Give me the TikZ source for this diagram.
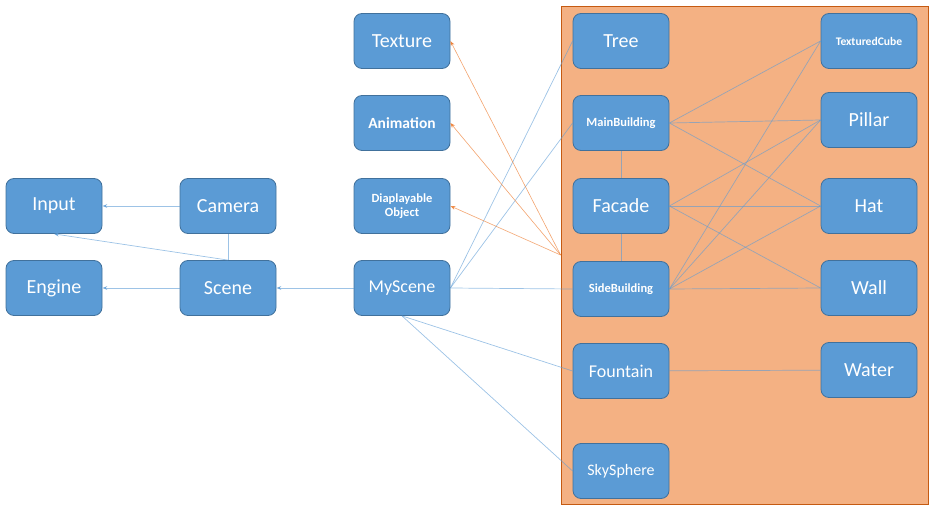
\documentclass[tikz,border=0pt]{standalone}
\usepackage{fontspec}
\setmainfont{Carlito}
\usetikzlibrary{arrows.meta}
\definecolor{nodeblue}{HTML}{5B9BD5}
\definecolor{nodeedge}{HTML}{41719C}
\definecolor{contfill}{HTML}{F4B183}
\definecolor{contedge}{HTML}{C55A11}
\definecolor{orangeline}{HTML}{ED7D31}
\begin{document}
\begin{tikzpicture}[x=1pt,y=-1pt,
 box/.style={draw=nodeedge, line width=0.8pt, fill=nodeblue, rounded corners=8pt, minimum width=96pt, minimum height=55pt, inner sep=0pt, text=white, align=center, font=\fontsize{20}{24}\selectfont},
 mid/.style={font=\fontsize{18}{21}\selectfont},
 anim/.style={font=\bfseries\fontsize{15.5}{18}\selectfont},
 sky/.style={font=\fontsize{16}{19}\selectfont},
 small/.style={font=\bfseries\fontsize{12.5}{14}\selectfont},
 tiny/.style={font=\bfseries\fontsize{11.6}{13}\selectfont},
 link/.style={draw=nodeblue, draw opacity=0.6, line width=0.7pt},
 arr/.style={link, -{Stealth[length=5pt,width=4pt]}},
 oarr/.style={draw=orangeline, draw opacity=0.7, line width=0.6pt, -{Stealth[length=5pt,width=4pt]}}
]
\useasboundingbox (0,0) rectangle (932,513);
\node[draw=contedge, fill=contfill, line width=0.8pt, minimum width=367pt, minimum height=498pt, inner sep=0pt] (cont) at (744.5,255) {};
% left
\node[box] (input) at (54,206) {Input};
\node[box] (camera) at (228,206) {Camera};
\node[box] (engine) at (54,288) {Engine};
\node[box] (scene) at (228,288) {Scene};
% middle
\node[box] (texture) at (402,41) {Texture};
\node[box, anim] (animation) at (402,123) {Animation};
\node[box, small] (disp) at (402,206) {Diaplayable\\Object};
\node[box, mid] (myscene) at (402,288) {MyScene};
% container left column
\node[box] (tree) at (621,41) {Tree};
\node[box, small] (mainb) at (621,123) {MainBuilding};
\node[box] (facade) at (621,206) {Facade};
\node[box, small] (sideb) at (621,289) {SideBuilding};
\node[box, mid] (fountain) at (621,371) {Fountain};
\node[box, sky] (skys) at (621,471) {SkySphere};
% container right column
\node[box, tiny] (tcube) at (869,41) {TexturedCube};
\node[box] (pillar) at (869,120) {Pillar};
\node[box] (hat) at (869,206) {Hat};
\node[box] (wall) at (869,288) {Wall};
\node[box] (water) at (869,370) {Water};
% left connectors
\draw[arr] (camera) -- (input);
\draw[arr] (scene) -- (engine);
\draw[arr] (scene.north) -- (input.south);
\draw[link] (camera) -- (scene);
\draw[arr] (myscene) -- (scene);
% MyScene connectors
\draw[link] (myscene.east) -- (tree.west);
\draw[link] (myscene.east) -- (mainb.west);
\draw[link] (myscene.east) -- (sideb.west);
\draw[link] (myscene.south) -- (fountain.west);
\draw[link] (myscene.south) -- (skys.west);
% orange arrows
\draw[oarr] (cont.west) -- (texture.east);
\draw[oarr] (cont.west) -- (animation.east);
\draw[oarr] (cont.west) -- (disp.east);
% container connectors
\draw[link] (mainb) -- (facade);
\draw[link] (facade) -- (sideb);
\draw[link] (mainb.east) -- (tcube.west);
\draw[link] (mainb.east) -- (pillar.west);
\draw[link] (mainb.east) -- (hat.west);
\draw[link] (facade.east) -- (pillar.west);
\draw[link] (facade.east) -- (hat.west);
\draw[link] (facade.east) -- (wall.west);
\draw[link] (sideb.east) -- (tcube.west);
\draw[link] (sideb.east) -- (pillar.west);
\draw[link] (sideb.east) -- (hat.west);
\draw[link] (sideb.east) -- (wall.west);
\draw[link] (fountain) -- (water);
\end{tikzpicture}
\end{document}
